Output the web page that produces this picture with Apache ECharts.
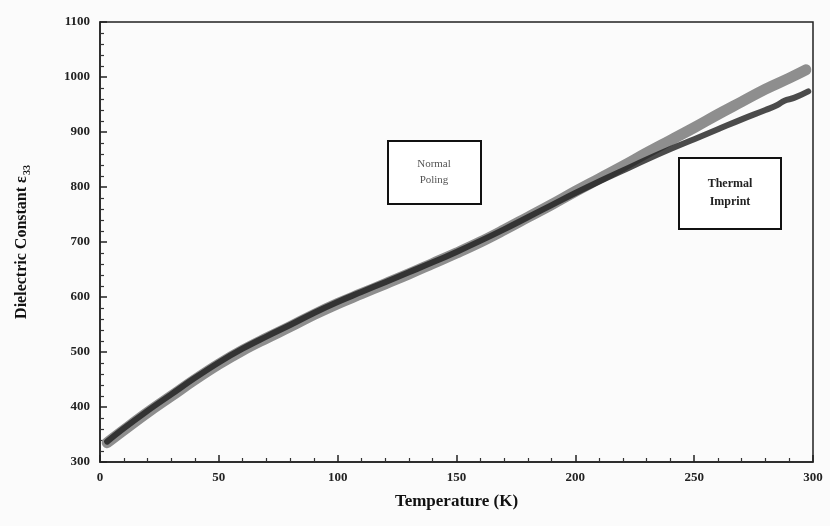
<!DOCTYPE html>
<html><head><meta charset="utf-8">
<script src="https://cdn.jsdelivr.net/npm/echarts@6/dist/echarts.min.js"></script>
<style>html,body{margin:0;padding:0;background:#fbfbfb}#c{width:830px;height:526px}</style>
</head><body><div id="c"></div>
<script>
var tempNormal = [3,10,20,30,40,50,60,70,80,90,100,110,120,130,140,150,160,170,180,190,200,210,220,230,240,250,260,270,280,290,297];
var normalPoling = [335,358,390,420,450,478,503,525,546,568,588,606,624,642,661,680,700,722,745,768,792,815,838,862,885,908,932,955,978,998,1013];
var tempThermal = [3,10,20,30,40,50,60,70,80,90,100,110,120,130,140,150,160,170,180,190,200,210,220,230,240,250,260,270,280,285,288,292,298];
var thermalImprint = [337,361,393,423,453,481,506,528,549,571,591,609,627,645,663,682,702,723,745,767,789,810,830,850,869,887,905,923,940,949,957,962,974];
var xTicks = [0,50,100,150,200,250,300];
var yTicks = [300,400,500,600,700,800,900,1000,1100];

function pairs(xs, ys){ return xs.map(function(x,i){return [x, ys[i]];}); }

var serif = 'Liberation Serif';
var chart = echarts.init(document.getElementById('c'));
chart.setOption({
  animation:false,
  backgroundColor:'#fbfbfb',
  grid:{left:100, right:17, top:22, bottom:64, show:true, borderColor:'#222', borderWidth:1.5, backgroundColor:'transparent'},
  xAxis:{type:'value', min:xTicks[0], max:xTicks[xTicks.length-1], interval:50,
    name:'Temperature (K)', nameLocation:'middle', nameGap:31,
    nameTextStyle:{fontFamily:serif, fontWeight:'bold', fontSize:17, color:'#111'},
    axisLine:{show:true, lineStyle:{color:'#222', width:1.5}},
    axisTick:{show:true, inside:true, length:7, lineStyle:{color:'#222', width:1.5}},
    minorTick:{show:true, splitNumber:5, length:4, lineStyle:{color:'#333', width:1.2}},
    splitLine:{show:false},
    axisLabel:{fontFamily:serif, fontWeight:'bold', fontSize:13, color:'#222', margin:9, formatter:function(v){return String(v);}}
  },
  yAxis:{type:'value', min:yTicks[0], max:yTicks[yTicks.length-1], interval:100,
    name:'Dielectric Constant ε{sub|33}', nameLocation:'middle', nameGap:68, nameRotate:90,
    nameTextStyle:{fontFamily:serif, fontWeight:'bold', fontSize:16, color:'#111',
      rich:{sub:{fontFamily:serif, fontWeight:'bold', fontSize:10, color:'#111', verticalAlign:'bottom', padding:[10,0,0,1]}}},
    axisLine:{show:true, lineStyle:{color:'#222', width:1.5}},
    axisTick:{show:true, inside:true, length:7, lineStyle:{color:'#222', width:1.5}},
    minorTick:{show:true, splitNumber:5, length:4, lineStyle:{color:'#333', width:1.2}},
    splitLine:{show:false},
    axisLabel:{fontFamily:serif, fontWeight:'bold', fontSize:13, color:'#222', margin:10, formatter:function(v){return String(v);}}
  },
  series:[
    {name:'Normal Poling', type:'line', data:pairs(tempNormal, normalPoling), showSymbol:false, smooth:0.4,
      lineStyle:{color:'#8e8e8e', width:11, cap:'round'}, z:2},
    {name:'Thermal Imprint', type:'line', data:pairs(tempThermal, thermalImprint), showSymbol:false, smooth:0.4,
      lineStyle:{color:'#1a1a1a', width:6, opacity:0.78, cap:'round'}, z:3}
  ],
  graphic:[
    {type:'group', left:387, top:140, children:[
      {type:'rect', shape:{x:0,y:0,width:93,height:63}, style:{fill:'#fff', stroke:'#111', lineWidth:2}},
      {type:'text', style:{x:46, y:31, text:'Normal\nPoling', fill:'#555', font:'11px "Liberation Serif"', align:'center', verticalAlign:'middle', lineHeight:16}}
    ]},
    {type:'group', left:678, top:157, children:[
      {type:'rect', shape:{x:0,y:0,width:102,height:71}, style:{fill:'#fff', stroke:'#111', lineWidth:2}},
      {type:'text', style:{x:51, y:35, text:'Thermal\nImprint', fill:'#222', font:'bold 12px "Liberation Serif"', align:'center', verticalAlign:'middle', lineHeight:18}}
    ]}
  ]
});
</script></body></html>
